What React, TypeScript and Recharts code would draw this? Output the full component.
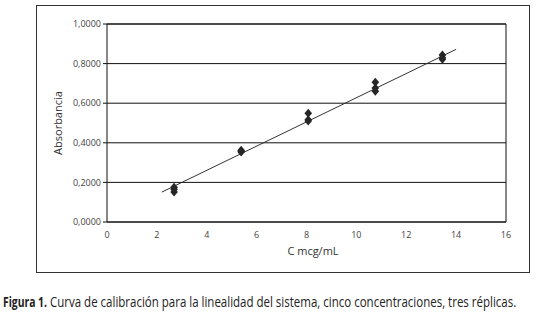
import React, { useLayoutEffect, useRef, useState } from 'react';
import { ScatterChart, Scatter, XAxis, YAxis, CartesianGrid, ReferenceLine, ZAxis } from 'recharts';

const concentrations = [2.69, 2.69, 2.69, 5.38, 5.38, 5.38, 8.07, 8.07, 8.07, 10.76, 10.76, 10.76, 13.45, 13.45, 13.45];
const absorbances = [0.175, 0.165, 0.152, 0.362, 0.357, 0.354, 0.549, 0.516, 0.51, 0.706, 0.677, 0.66, 0.843, 0.83, 0.822];
const trendX = [2.2, 14.0];
const trendY = [0.151, 0.872];
const xTicks = [0, 2, 4, 6, 8, 10, 12, 14, 16];
const yTicks = [0, 0.2, 0.4, 0.6, 0.8, 1.0];

const points = concentrations.map((x, i) => ({ x, y: absorbances[i] }));
const trend = trendX.map((x, i) => ({ x, y: trendY[i] }));

const Diamond = (props: any) => {
  const { cx, cy } = props;
  if (cx == null || cy == null) return <g />;
  return <polygon points={`${cx},${cy - 4.5} ${cx + 3.8},${cy} ${cx},${cy + 4.5} ${cx - 3.8},${cy}`} fill="#262626" />;
};

const NoShape = () => <g />;

const fmtY = (v: number) => v.toFixed(4).replace('.', ',');

const font = '"Open Sans", "DejaVu Sans", sans-serif';

const FitText = ({ x, y, width, bold, children }: any) => {
  const ref = useRef<SVGTextElement>(null);
  const [sx, setSx] = useState(1);
  useLayoutEffect(() => {
    if (ref.current) {
      const w = ref.current.getComputedTextLength();
      if (w > 0) setSx(width / w);
    }
  }, [width]);
  return (
    <g transform={`translate(${x},${y}) scale(${sx},1)`}>
      <text ref={ref} x={0} y={0} fontSize={14} fontWeight={bold ? 'bold' : 'normal'} fill="#222" fontFamily={font}>{children}</text>
    </g>
  );
};

export default function App() {
  return (
    <div style={{ position: 'absolute', left: 0, top: 0, width: 539, height: 312, background: '#fff' }}>
      <div style={{ position: 'absolute', left: 36, top: 5, width: 494, height: 268, border: '1px solid #333', boxSizing: 'border-box' }} />
      <div style={{ position: 'absolute', left: 0, top: 0 }}>
        <ScatterChart width={539} height={312} margin={{ top: 24, right: 33, bottom: 60, left: 0 }}>
          <CartesianGrid vertical={false} stroke="#111" strokeWidth={1} />
          <ZAxis range={[40, 40]} />
          <XAxis
            type="number"
            dataKey="x"
            domain={[0, 16]}
            ticks={xTicks}
            height={30}
            tickLine={false}
            axisLine={{ stroke: '#111' }}
            tick={{ fontSize: 9, fill: '#444', fontFamily: font }}
            tickMargin={4}
            allowDataOverflow
          />
          <YAxis
            type="number"
            dataKey="y"
            domain={[0, 1]}
            ticks={yTicks}
            width={107}
            tickFormatter={fmtY}
            tickSize={4}
            tickLine={{ stroke: '#111' }}
            axisLine={{ stroke: '#111' }}
            tick={{ fontSize: 9, fill: '#444', fontFamily: font }}
            tickMargin={2}
          />
          <ReferenceLine x={16} stroke="#111" />
          <ReferenceLine y={1} stroke="#111" />
          <Scatter data={trend} line={{ stroke: '#333', strokeWidth: 1 }} shape={NoShape} isAnimationActive={false} />
          <Scatter data={points} shape={Diamond} isAnimationActive={false} />
          <text x={313} y={255} textAnchor="middle" fontSize={11} fill="#333" fontFamily={font}>C mcg/mL</text>
          <text x={62} y={123} textAnchor="middle" fontSize={11} fill="#333" fontFamily={font} transform="rotate(-90 62 123)">Absorbancia</text>
        </ScatterChart>
      </div>
      <svg style={{ position: 'absolute', left: 0, top: 290 }} width={539} height={22}>
        <FitText x={3} y={17} width={44} bold>Figura 1.</FitText>
        <FitText x={50} y={17} width={467}>Curva de calibración para la linealidad del sistema, cinco concentraciones, tres réplicas.</FitText>
      </svg>
    </div>
  );
}
